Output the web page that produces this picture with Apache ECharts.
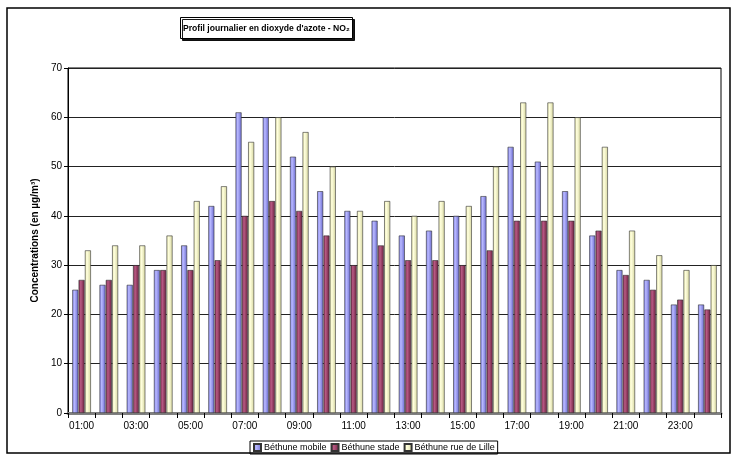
<!DOCTYPE html>
<html>
<head>
<meta charset="utf-8">
<script src="https://cdn.jsdelivr.net/npm/echarts@6/dist/echarts.min.js"></script>
<style>
html,body{margin:0;padding:0;background:#fff;}
#chart{width:733px;height:456px;}
</style>
</head>
<body>
<div id="chart"></div>
<script>
const categories = ['01:00','02:00','03:00','04:00','05:00','06:00','07:00','08:00','09:00','10:00','11:00','12:00','13:00','14:00','15:00','16:00','17:00','18:00','19:00','20:00','21:00','22:00','23:00','24:00'];
const bethuneMobile = [25,26,26,29,34,42,61,60,52,45,41,39,36,37,40,44,54,51,45,36,29,27,22,22];
const bethuneStade  = [27,27,30,29,29,31,40,43,41,36,30,34,31,31,30,33,39,39,39,37,28,25,23,21];
const bethuneLille  = [33,34,34,36,43,46,55,60,57,50,41,43,40,43,42,50,63,63,60,54,37,32,29,30];
const yTicks = [0,10,20,30,40,50,60,70];
const seriesNames = ['Béthune mobile','Béthune stade','Béthune rue de Lille'];

const FONT = 'Liberation Sans, Arial, sans-serif';
function cyl(c1, c2, c3) {
  return {type:'linear', x:0, y:0, x2:1, y2:0, colorStops:[
    {offset:0, color:c1},{offset:0.35, color:c2},{offset:1, color:c3}]};
}
const chart = echarts.init(document.getElementById('chart'), null, {renderer:'canvas'});
chart.setOption({
  animation:false,
  backgroundColor:'#fff',
  textStyle:{fontFamily:FONT},
  graphic:[{type:'rect', shape:{x:7, y:8, width:723, height:445},
    style:{fill:'none', stroke:'#000', lineWidth:1.5}, z:-1}],
  title:{
    text:'Profil journalier en dioxyde d\'azote - NO₂',
    left:180, top:17, padding:[7,3,6,3],
    borderColor:'#000', borderWidth:1, backgroundColor:'#fff',
    shadowColor:'rgba(0,0,0,0.9)', shadowOffsetX:2, shadowOffsetY:2, shadowBlur:0,
    textStyle:{fontFamily:FONT, fontSize:8.6, fontWeight:'bold', color:'#000'}
  },
  legend:{
    bottom:2, left:250, itemWidth:7, itemHeight:7, itemGap:4,
    padding:[2,3,2,3], borderColor:'#000', borderWidth:1,
    textStyle:{fontFamily:FONT, fontSize:9, color:'#000', padding:[0,0,0,-2]},
    data:seriesNames.map(n=>({name:n, icon:'rect'}))
  },
  grid:{left:68, right:12, top:68, bottom:43, show:true, borderColor:'#000', borderWidth:1},
  xAxis:{
    type:'category', data:categories,
    axisLine:{lineStyle:{color:'#808080', width:3}},
    axisTick:{show:true, interval:0, length:5, lineStyle:{color:'#000'}},
    axisLabel:{interval:1, color:'#000', fontSize:10, fontFamily:FONT, margin:8},
    splitLine:{show:false}
  },
  yAxis:{
    type:'value', min:yTicks[0], max:yTicks[yTicks.length-1], interval:10,
    name:'Concentrations (en µg/m³)', nameLocation:'middle', nameGap:27,
    nameTextStyle:{fontFamily:FONT, fontSize:10, fontWeight:'bold', color:'#000'},
    axisLine:{show:true, lineStyle:{color:'#000', width:1}},
    axisTick:{show:true, length:4, lineStyle:{color:'#000'}},
    axisLabel:{color:'#000', fontSize:10, fontFamily:FONT, margin:6},
    splitLine:{show:true, lineStyle:{color:'#222', width:1}}
  },
  series:[
    {name:seriesNames[0], type:'bar', data:bethuneMobile, barWidth:6, barGap:'5%', barCategoryGap:'28%',
     itemStyle:{color:cyl('#7f7fe6','#b8b8ff','#6a6ad0'), borderColor:'#333', borderWidth:0.6}},
    {name:seriesNames[1], type:'bar', data:bethuneStade, barWidth:6, barGap:'5%', barCategoryGap:'28%',
     itemStyle:{color:cyl('#7a2448','#b85a84','#6a1f3e'), borderColor:'#333', borderWidth:0.6}},
    {name:seriesNames[2], type:'bar', data:bethuneLille, barWidth:6, barGap:'5%', barCategoryGap:'28%',
     itemStyle:{color:cyl('#e8e8b0','#ffffdd','#d6d6a0'), borderColor:'#333', borderWidth:0.6}}
  ]
});
</script>
</body>
</html>
